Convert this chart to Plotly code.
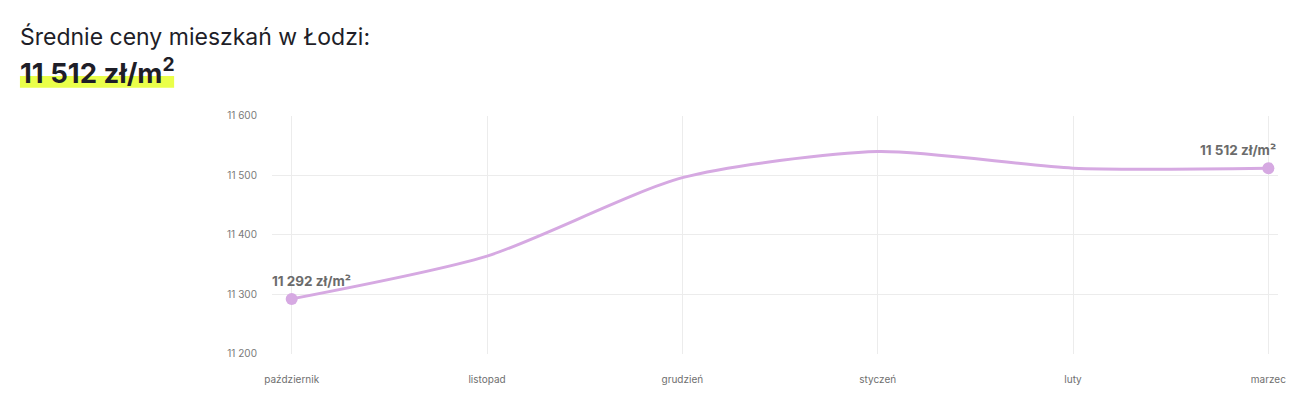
import plotly.graph_objects as go

months = ["październik", "listopad", "grudzień", "styczeń", "luty", "marzec"]
prices = [11292, 11364, 11496, 11540, 11512, 11512]
ytick_vals = [11200, 11300, 11400, 11500, 11600]
ytick_text = ["11 200", "11 300", "11 400", "11 500", "11 600"]
title_text = "Średnie ceny mieszkań w Łodzi:"
headline_text = "11 512 zł/m<sup>2</sup>"
first_label = "11 292 zł/m²"
last_label = "11 512 zł/m²"

# page body keeps its default 8px margin, so the figure is 16px smaller than the window
OFF = 8
W, H = 1304 - 2 * OFF, 418 - 2 * OFF
LINE = "#d6a9e2"
FONT = "Inter, Lato, sans-serif"

def px(x):
    return (x - OFF) / W

def py(y):
    return 1 - (y - OFF) / H

xs = list(range(len(months)))

fig = go.Figure()
fig.add_trace(go.Scatter(
    x=xs, y=prices, mode="lines",
    line=dict(color=LINE, width=3, shape="spline", smoothing=0.7),
    hoverinfo="skip", showlegend=False,
))
fig.add_trace(go.Scatter(
    x=[xs[0], xs[-1]], y=[prices[0], prices[-1]], mode="markers",
    marker=dict(color=LINE, size=12),
    hoverinfo="skip", showlegend=False,
))

fig.update_layout(
    width=W, height=H,
    margin=dict(l=0, r=0, t=0, b=0),
    paper_bgcolor="white", plot_bgcolor="white",
    font=dict(family=FONT, color="#777"),
    xaxis=dict(
        domain=[px(268), px(1286)],
        range=[-0.101, 5.05],
        tickvals=xs, ticktext=months,
        showgrid=True, gridcolor="#ececec", gridwidth=1,
        zeroline=False, showline=False, ticks="",
        tickfont=dict(size=10, color="#6f6f6f"),
        ticklabelstandoff=18,
        fixedrange=True,
    ),
    yaxis=dict(
        domain=[py(358), py(113)],
        range=[11200, 11600],
        tickvals=ytick_vals, ticktext=ytick_text,
        showgrid=True, gridcolor="#ececec", gridwidth=1,
        zeroline=False, showline=False, ticks="",
        tickfont=dict(size=10, color="#7a7a7a"),
        ticklabelstandoff=14,
        fixedrange=True,
    ),
    shapes=[dict(
        type="rect", xref="paper", yref="paper",
        x0=px(13), x1=px(169), y0=py(84), y1=py(72),
        fillcolor="#eaff4a", line=dict(width=0), layer="below",
    )],
    annotations=[
        dict(text=title_text, xref="paper", yref="paper", x=px(11), y=py(32),
             xanchor="left", yanchor="middle", showarrow=False,
             font=dict(size=23, color="#1e1e28", family=FONT)),
        dict(text="<b>" + headline_text + "</b>", xref="paper", yref="paper",
             x=px(11), y=py(67), xanchor="left", yanchor="middle", showarrow=False,
             font=dict(size=27.5, color="#1e1e28", family=FONT)),
        dict(text="<b>" + first_label + "</b>", x=xs[0], y=prices[0],
             xanchor="left", yanchor="bottom", xshift=-22, yshift=8, showarrow=False,
             font=dict(size=13.5, color="#6b6b6b", family=FONT)),
        dict(text="<b>" + last_label + "</b>", x=xs[-1], y=prices[-1],
             xanchor="right", yanchor="bottom", xshift=10, yshift=8, showarrow=False,
             font=dict(size=13.5, color="#6b6b6b", family=FONT)),
    ],
)

fig.write_html("out.html", config={"displayModeBar": False})
